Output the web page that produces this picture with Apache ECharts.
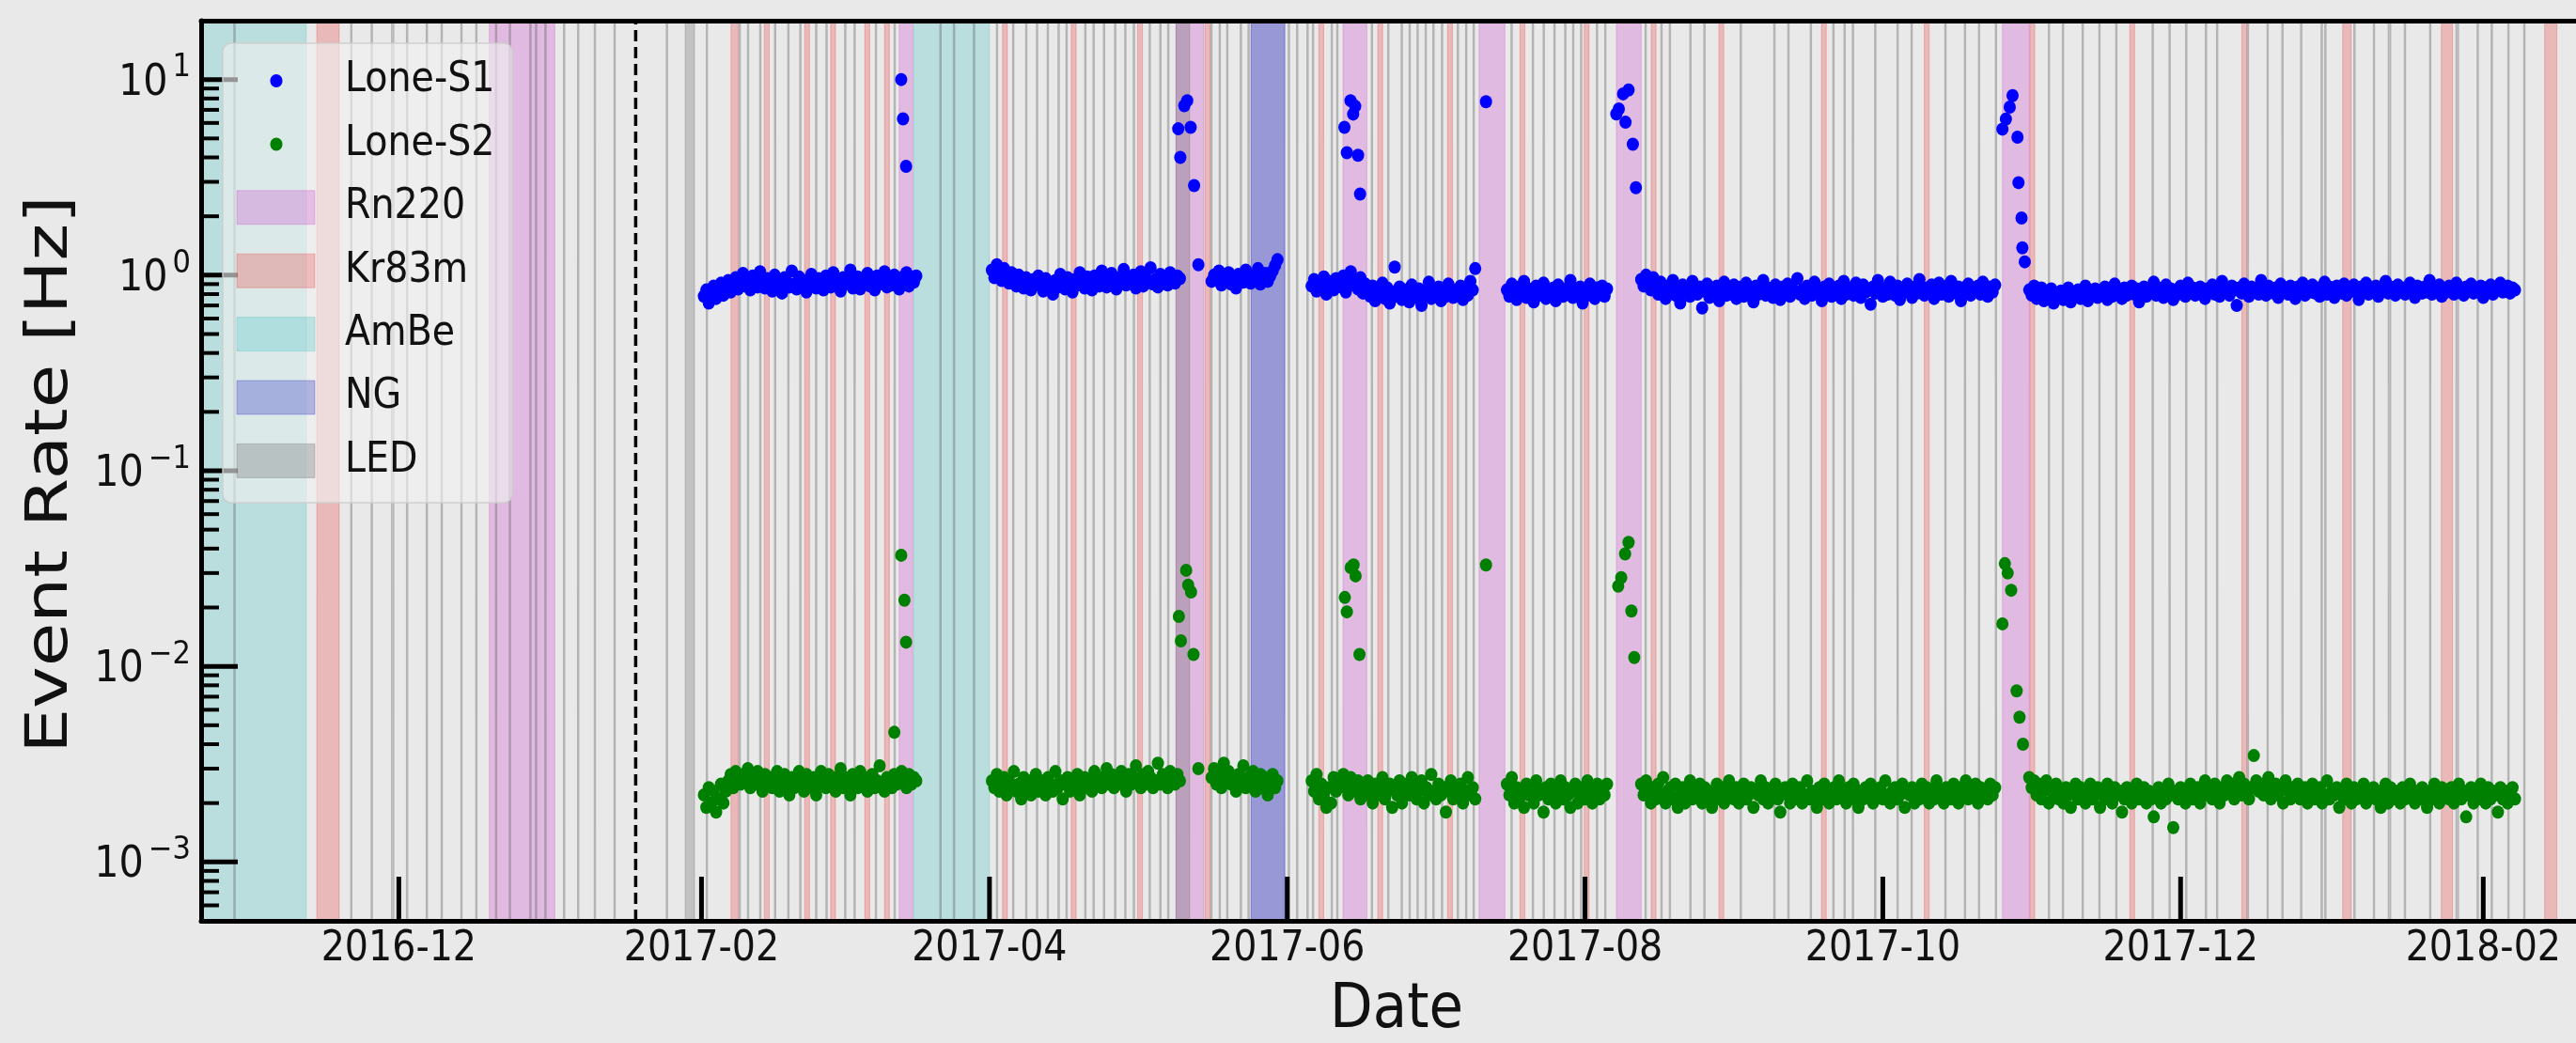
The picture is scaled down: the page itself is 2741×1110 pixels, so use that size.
<!DOCTYPE html>
<html>
<head>
<meta charset="utf-8">
<script src="https://cdn.jsdelivr.net/npm/echarts@6/dist/echarts.min.js"></script>
<style>
  html, body { margin: 0; padding: 0; background: #e9e9e9; }
  #chart { width: 2741px; height: 1110px; }
</style>
</head>
<body>
<div id="chart"></div>
<script>
// ---------------- axis ranges & ticks ----------------
const X_RANGE = ['2016-10-21 12:00', '2018-02-20 00:00'];
const Y_RANGE = [5e-4, 20];
const xTickDates  = ['2016-12-01', '2017-02-01', '2017-04-01', '2017-06-01', '2017-08-01', '2017-10-01', '2017-12-01', '2018-02-01'];
const xTickLabels = ['2016-12', '2017-02', '2017-04', '2017-06', '2017-08', '2017-10', '2017-12', '2018-02'];
const yMajorTicks = [1e-3, 1e-2, 1e-1, 1, 10];
const yTickExponents = ['\u22123', '\u22122', '\u22121', '0', '1'];
const startMarker = ['2017-01-18 12:30'];

// ---------------- rate data ----------------
// Lone-S1 / Lone-S2 rates every 12 h, one list per contiguous science run
const runStarts = ['2017-02-01 12:00', '2017-04-01 12:00', '2017-05-16 12:00', '2017-06-06 00:00',
                   '2017-07-16 00:00', '2017-08-12 12:00', '2017-10-31 00:00'];

// Lone-S1 in Hz
const s1RunA = [0.78,0.84,0.72,0.80,0.88,0.76,0.83,0.91,0.79,0.86,0.94,0.82,0.89,0.97,0.85,0.92,1.02,0.88,0.95,0.84,
  0.99,0.90,0.87,1.04,0.93,0.86,0.96,0.91,0.83,1.00,0.89,0.94,0.81,0.97,0.92,0.87,1.05,0.90,0.85,0.98,
  0.93,0.88,0.82,0.95,1.01,0.89,0.86,0.96,0.92,0.84,0.99,0.91,0.87,1.03,0.94,0.88,0.83,0.97,0.90,0.93,
  1.06,0.86,0.92,0.98,0.85,0.91,0.95,1.02,0.88,0.93,0.84,0.99,0.90,0.96,1.04,0.87,0.92,0.89,1.00,0.94,
  0.85,0.97,0.91,1.03,0.88,0.95,0.92,0.99];
const s1RunB = [1.06,0.97,1.13,1.01,0.94,1.08,0.99,0.91,1.03,0.95,0.88,1.00,0.93,0.86,0.97,0.90,0.84,0.95,0.89,0.99,
  0.92,0.83,0.96,0.88,0.91,0.80,0.94,0.87,1.01,0.90,0.85,0.97,0.92,0.82,0.95,0.89,1.03,0.93,0.86,0.98,
  0.91,0.84,0.99,0.94,0.88,1.05,0.92,0.87,0.96,1.02,0.90,0.85,0.97,0.93,1.07,0.89,0.95,0.91,1.00,0.86,
  0.94,1.04,0.88,0.97,0.92,1.09,0.90,0.95,0.87,1.01,0.93,0.98,0.89,1.03,0.94,0.91,0.99,0.96];
const s1RunC = [0.93,1.00,0.96,1.05,0.89,0.98,0.94,1.03,0.90,0.97,0.86,1.01,0.95,0.92,1.06,0.98,0.91,0.99,0.94,1.08,
  0.90,0.97,1.02,0.93,0.99,1.05,1.12,1.20];
const s1RunD = [0.88,0.95,0.83,0.91,0.86,0.98,0.80,0.93,0.89,0.84,0.96,0.90,0.87,0.99,0.82,0.94,1.04,0.89,0.92,0.85,
  0.97,0.81,0.90,0.84,0.78,0.88,0.74,0.83,0.79,0.91,0.76,0.86,0.72,0.82,1.10,0.78,0.87,0.75,0.84,0.80,
  0.73,0.89,0.81,0.77,0.85,0.70,0.83,0.79,0.92,0.76,0.84,0.80,0.87,0.74,0.82,0.78,0.90,0.85,0.77,0.83,
  0.81,0.88,0.75,0.86,0.79,0.93,0.84,1.08];
const s1RunE = [0.84,0.78,0.90,0.81,0.75,0.87,0.80,0.93,0.77,0.85,0.82,0.73,0.88,0.79,0.84,0.91,0.76,0.83,0.80,0.86,
  0.74,0.89,0.81,0.78,0.85,0.82,0.94,0.77,0.84,0.80,0.87,0.72,0.83,0.79,0.90,0.81,0.76,0.86,0.82,0.88,
  0.78,0.85];
const s1RunF = [0.95,0.88,1.00,0.91,0.84,0.97,0.86,0.80,0.92,0.83,0.76,0.88,0.81,0.94,0.79,0.85,0.72,0.89,0.82,0.86,
  0.78,0.93,0.84,0.80,0.87,0.68,0.83,0.90,0.77,0.85,0.81,0.88,0.74,0.86,0.92,0.79,0.84,0.80,0.89,0.76,
  0.83,0.87,0.78,0.91,0.82,0.85,0.73,0.88,0.80,0.84,0.94,0.79,0.86,0.82,0.77,0.89,0.83,0.75,0.87,0.81,
  0.90,0.78,0.85,0.82,0.96,0.80,0.84,0.76,0.88,0.83,0.79,0.92,0.86,0.81,0.74,0.87,0.84,0.90,0.78,0.85,
  0.82,0.88,0.76,0.93,0.80,0.86,0.83,0.79,0.91,0.84,0.77,0.89,0.82,0.85,0.71,0.87,0.81,0.94,0.83,0.78,
  0.86,0.80,0.92,0.84,0.79,0.88,0.75,0.85,0.82,0.90,0.83,0.77,0.87,0.81,0.95,0.84,0.79,0.86,0.82,0.89,
  0.76,0.85,0.91,0.80,0.84,0.88,0.78,0.93,0.83,0.81,0.87,0.74,0.86,0.82,0.90,0.79,0.85,0.83,0.88,0.80,
  0.92,0.84,0.78,0.87,0.82,0.89];
const s1RunG = [0.84,0.79,0.88,0.76,0.82,0.86,0.74,0.81,0.78,0.85,0.72,0.80,0.77,0.83,0.75,0.79,0.86,0.73,0.81,0.78,
  0.84,0.76,0.80,0.88,0.74,0.82,0.79,0.85,0.77,0.83,0.80,0.87,0.75,0.82,0.78,0.90,0.81,0.84,0.76,0.86,
  0.79,0.83,0.88,0.80,0.85,0.73,0.82,0.87,0.78,0.84,0.81,0.92,0.79,0.86,0.83,0.77,0.89,0.82,0.85,0.75,
  0.84,0.80,0.88,0.83,0.78,0.91,0.82,0.86,0.79,0.84,0.87,0.81,0.76,0.85,0.83,0.89,0.80,0.86,0.78,0.93,
  0.82,0.85,0.79,0.88,0.84,0.70,0.86,0.81,0.90,0.83,0.78,0.87,0.82,0.85,0.80,0.94,0.83,0.79,0.88,0.84,
  0.81,0.86,0.77,0.90,0.83,0.85,0.80,0.88,0.82,0.76,0.87,0.84,0.91,0.79,0.85,0.82,0.89,0.81,0.86,0.78,
  0.84,0.92,0.80,0.87,0.83,0.77,0.88,0.85,0.81,0.90,0.79,0.86,0.83,0.89,0.82,0.75,0.87,0.84,0.91,0.80,
  0.85,0.82,0.88,0.78,0.86,0.83,0.93,0.81,0.87,0.84,0.79,0.89,0.82,0.86,0.80,0.85,0.91,0.83,0.77,0.88,
  0.84,0.81,0.87,0.82,0.94,0.80,0.86,0.83,0.89,0.78,0.85,0.82,0.88,0.84,0.80,0.91,0.83,0.86,0.79,0.87,
  0.84,0.90,0.81,0.85,0.82,0.88,0.77,0.86,0.83,0.89,0.80,0.87,0.84,0.91,0.82,0.85,0.88,0.81,0.86,0.84];

// Lone-S2 in mHz
const s2RunA = [2.2,1.9,2.4,2.0,2.3,1.8,2.1,2.5,2.0,2.3,2.6,2.8,2.4,2.9,2.7,2.5,2.8,2.6,3.0,2.4,
  2.7,2.5,2.9,2.6,2.3,2.8,2.5,2.7,2.4,2.6,2.9,2.3,2.6,2.8,2.5,2.2,2.7,2.4,2.6,2.9,
  2.5,2.3,2.8,2.6,2.4,2.7,2.2,2.5,2.9,2.6,2.4,2.8,2.5,2.7,2.3,2.6,3.0,2.4,2.7,2.5,
  2.2,2.8,2.6,2.4,2.9,2.5,2.7,2.3,2.6,2.8,2.4,2.6,3.1,2.5,2.3,2.7,2.6,2.4,2.8,2.5,
  2.7,2.9,2.6,2.4,2.8,2.5,2.7,2.6];
const s2RunB = [2.6,2.4,2.8,2.3,2.5,2.7,2.2,2.6,2.4,2.9,2.3,2.5,2.1,2.7,2.4,2.6,2.2,2.5,2.8,2.3,
  2.6,2.4,2.2,2.7,2.5,2.3,2.9,2.4,2.6,2.1,2.5,2.7,2.3,2.6,2.4,2.8,2.2,2.5,2.7,2.4,
  2.6,2.3,2.9,2.5,2.7,2.4,2.6,3.0,2.5,2.8,2.4,2.7,2.5,2.9,2.6,2.3,2.8,2.5,2.7,3.1,
  2.6,2.4,2.8,2.5,2.9,2.7,2.4,2.6,3.2,2.5,2.8,2.6,2.4,2.9,2.7,2.5,2.8,2.6];
const s2RunC = [2.7,3.0,2.5,2.8,2.4,3.2,2.6,2.9,2.5,2.7,2.3,2.8,2.6,3.1,2.4,2.7,2.5,2.9,2.3,2.6,
  2.8,2.4,2.7,2.2,2.5,2.8,2.4,2.6];
const s2RunD = [2.6,2.3,2.8,2.1,2.5,2.2,1.9,2.4,2.0,2.7,2.3,2.6,2.5,2.8,2.4,2.2,2.7,2.5,2.3,2.6,
  2.1,2.4,2.2,2.6,2.3,2.0,2.5,2.2,2.4,2.7,2.1,2.3,2.5,1.9,2.4,2.2,2.6,2.0,2.3,2.5,
  2.2,2.7,2.4,2.1,2.3,2.6,2.0,2.4,2.2,2.8,2.3,2.1,2.5,2.2,2.4,1.8,2.3,2.6,2.1,2.4,
  2.2,2.5,2.0,2.3,2.7,2.2,2.4,2.1];
const s2RunE = [2.5,2.2,2.7,2.0,2.4,2.1,2.3,1.9,2.5,2.2,2.4,2.0,2.6,2.2,2.3,1.8,2.4,2.1,2.5,2.2,
  2.0,2.3,2.6,2.1,2.4,2.2,1.9,2.3,2.5,2.0,2.2,2.4,2.1,2.6,2.3,2.0,2.2,2.5,2.1,2.4,
  2.2,2.5];
const s2RunF = [2.5,2.2,2.6,2.3,2.0,2.4,2.1,2.5,2.2,2.7,2.0,2.3,2.4,2.1,2.5,1.9,2.2,2.4,2.0,2.3,
  2.6,2.1,2.3,2.2,2.5,2.0,2.4,2.1,2.3,1.9,2.2,2.5,2.1,2.4,2.0,2.3,2.6,2.2,2.1,2.4,
  2.0,2.3,2.5,2.1,2.2,2.4,1.9,2.3,2.2,2.6,2.1,2.4,2.0,2.3,2.2,2.5,2.1,1.8,2.3,2.4,
  2.2,2.0,2.5,2.1,2.3,2.4,2.0,2.2,2.6,2.1,2.3,2.2,1.9,2.4,2.1,2.5,2.2,2.0,2.3,2.4,
  2.1,2.6,2.2,2.3,2.0,2.4,2.1,2.5,2.2,1.9,2.3,2.1,2.4,2.2,2.5,2.0,2.3,2.2,2.4,2.1,
  2.6,2.2,2.0,2.3,2.4,2.1,2.2,2.5,1.9,2.3,2.2,2.4,2.0,2.3,2.1,2.5,2.2,2.4,2.0,2.3,
  2.1,2.6,2.2,2.3,2.0,2.4,2.2,2.1,2.5,2.3,2.0,2.4,2.2,2.6,2.1,2.3,2.2,2.5,2.0,2.4,
  2.2,2.3,2.1,2.5,2.2,2.4];
const s2RunG = [2.7,2.4,2.6,2.2,2.5,2.1,2.3,2.6,2.0,2.4,2.2,2.5,2.1,2.3,2.0,2.4,2.2,1.9,2.3,2.5,
  2.1,2.4,2.2,2.0,2.3,2.5,2.1,2.2,2.4,1.9,2.3,2.1,2.5,2.2,2.0,2.4,2.2,2.3,1.8,2.1,
  2.4,2.2,2.0,2.3,2.5,2.1,2.2,2.4,2.0,2.3,2.1,1.7,2.2,2.4,2.0,2.3,2.1,2.5,2.2,1.5,
  2.3,2.1,2.4,2.2,2.0,2.3,2.5,2.1,2.2,2.4,2.0,2.3,2.6,2.2,2.4,2.1,2.5,2.3,2.0,2.4,
  2.2,2.6,2.3,2.5,2.1,2.4,2.7,2.2,2.5,2.3,2.1,2.4,3.5,2.6,2.3,2.5,2.2,2.4,2.7,2.1,
  2.3,2.5,2.2,2.4,2.0,2.6,2.3,2.1,2.4,2.2,2.5,2.1,2.3,2.4,2.0,2.2,2.5,2.1,2.3,2.4,
  2.0,2.2,2.6,2.1,2.3,2.2,2.4,1.9,2.3,2.1,2.5,2.2,2.0,2.4,2.1,2.3,2.2,2.5,2.0,2.3,
  2.2,2.4,2.1,2.3,1.9,2.2,2.5,2.0,2.4,2.1,2.3,2.2,2.0,2.4,2.1,2.3,2.5,2.2,2.0,2.3,
  2.1,2.4,2.2,1.9,2.3,2.1,2.5,2.2,2.0,2.4,2.2,2.3,2.1,2.4,2.0,2.2,2.5,2.1,2.3,1.7,
  2.2,2.4,2.0,2.3,2.1,2.5,2.2,2.0,2.4,2.1,2.3,2.2,1.8,2.4,2.1,2.3,2.0,2.2,2.4,2.1];

// rate bursts after source injections [time, Hz]
const s1Bursts = [
  ['2017-03-13 22:00', 10.0], ['2017-03-14 07:00', 6.3], ['2017-03-14 22:00', 3.6],
  ['2017-05-09 16:00', 5.6], ['2017-05-10 02:00', 4.0], ['2017-05-10 22:00', 7.35], ['2017-05-11 12:00', 7.8],
  ['2017-05-12 05:00', 5.7], ['2017-05-12 22:00', 2.87], ['2017-05-13 19:00', 1.13],
  ['2017-06-12 17:00', 5.7], ['2017-06-13 05:00', 4.23], ['2017-06-13 23:00', 7.8], ['2017-06-14 12:00', 6.66],
  ['2017-06-14 22:00', 7.3], ['2017-06-15 12:00', 4.1], ['2017-06-15 22:00', 2.6],
  ['2017-07-11 17:00', 7.7],
  ['2017-08-07 10:00', 6.67], ['2017-08-07 22:00', 7.07], ['2017-08-08 19:00', 8.45], ['2017-08-09 07:00', 6.05],
  ['2017-08-09 22:00', 8.85], ['2017-08-10 19:00', 4.67], ['2017-08-11 10:00', 2.8],
  ['2017-10-25 12:00', 5.58], ['2017-10-26 05:00', 6.28], ['2017-10-27 00:00', 7.23], ['2017-10-27 14:00', 8.28],
  ['2017-10-28 14:00', 5.07], ['2017-10-28 19:00', 2.97], ['2017-10-29 10:00', 1.96], ['2017-10-29 14:00', 1.38],
  ['2017-10-30 02:00', 1.17]
];
const s2Bursts = [
  ['2017-03-12 12:00', 0.0046], ['2017-03-13 22:00', 0.037], ['2017-03-14 14:00', 0.0218], ['2017-03-14 22:00', 0.0133],
  ['2017-05-09 19:00', 0.018], ['2017-05-10 05:00', 0.0135], ['2017-05-11 07:00', 0.031], ['2017-05-11 17:00', 0.026],
  ['2017-05-12 07:00', 0.024], ['2017-05-12 19:00', 0.0115], ['2017-05-13 19:00', 0.0030],
  ['2017-06-12 19:00', 0.0225], ['2017-06-13 05:00', 0.019], ['2017-06-14 00:00', 0.032], ['2017-06-14 14:00', 0.033],
  ['2017-06-15 00:00', 0.029], ['2017-06-15 19:00', 0.0115],
  ['2017-07-11 17:00', 0.033],
  ['2017-08-07 19:00', 0.0257], ['2017-08-08 10:00', 0.0284], ['2017-08-09 05:00', 0.0376], ['2017-08-09 22:00', 0.043],
  ['2017-08-10 12:00', 0.0192], ['2017-08-11 02:00', 0.0111],
  ['2017-10-25 12:00', 0.0165], ['2017-10-26 00:00', 0.0335], ['2017-10-26 14:00', 0.030], ['2017-10-27 07:00', 0.0245],
  ['2017-10-28 10:00', 0.0075], ['2017-10-29 00:00', 0.0055], ['2017-10-29 17:00', 0.0040]
];

// ---------------- calibration periods ----------------
const rn220Runs = [
  ['2016-12-19 13:00', '2017-01-01 23:00'], ['2017-03-13 12:00', '2017-03-16 07:00'],
  ['2017-05-09 05:00', '2017-05-14 22:00'], ['2017-06-12 10:00', '2017-06-17 07:00'],
  ['2017-07-10 07:00', '2017-07-15 14:00'], ['2017-08-07 10:00', '2017-08-12 12:00'],
  ['2017-10-25 12:00', '2017-10-31 00:00']
];
const kr83mRuns = [
  ['2016-11-14 05:00', '2016-11-18 19:00'], ['2017-02-07 01:00', '2017-02-08 12:00'],
  ['2017-02-13 21:00', '2017-02-14 21:00'], ['2017-02-22 03:00', '2017-02-23 03:00'],
  ['2017-02-27 11:00', '2017-02-28 11:00'], ['2017-03-06 11:00', '2017-03-07 11:00'],
  ['2017-03-10 12:00', '2017-03-11 12:00'], ['2017-04-03 16:00', '2017-04-04 16:00'],
  ['2017-04-17 18:00', '2017-04-18 18:00'], ['2017-05-01 08:00', '2017-05-02 08:00'],
  ['2017-05-15 04:00', '2017-05-16 04:00'], ['2017-06-07 11:00', '2017-06-08 11:00'],
  ['2017-06-19 13:00', '2017-06-20 13:00'], ['2017-07-03 20:00', '2017-07-04 20:00'],
  ['2017-07-18 16:00', '2017-07-19 16:00'], ['2017-07-31 20:00', '2017-08-01 20:00'],
  ['2017-08-14 13:00', '2017-08-15 13:00'], ['2017-08-28 10:00', '2017-08-29 10:00'],
  ['2017-09-18 10:00', '2017-09-19 10:00'], ['2017-10-09 12:00', '2017-10-10 12:00'],
  ['2017-10-31 03:00', '2017-11-01 03:00'], ['2017-11-20 14:00', '2017-11-21 14:00'],
  ['2017-12-13 13:00', '2017-12-14 13:00'], ['2018-01-03 05:00', '2018-01-04 23:00'],
  ['2018-01-23 10:00', '2018-01-25 17:00'], ['2018-02-13 14:00', '2018-02-16 02:00']
];
const ambeRuns = [['2016-10-10 00:00', '2016-11-12 01:00'], ['2017-03-16 12:00', '2017-04-01 00:00']];
const ngRuns = [['2017-05-24 14:00', '2017-05-31 12:00']];
const ledLongRuns = [
  ['2016-11-29 12:00', '2016-11-30 00:00'], ['2017-01-28 16:00', '2017-01-30 14:00'],
  ['2017-05-09 05:00', '2017-05-12 00:00'], ['2018-01-12 12:00', '2018-01-13 02:00'],
  ['2018-01-26 09:00', '2018-01-26 23:00']
];
const ledRuns = [
  '2016-10-28 08:00','2016-11-21 06:00','2016-11-25 11:00','2016-12-02 17:00','2016-12-06 18:00','2016-12-09 19:00',
  '2016-12-13 20:00','2016-12-16 21:00','2016-12-20 22:00','2016-12-23 18:00','2016-12-27 23:00','2016-12-29 03:00',
  '2016-12-31 01:00','2017-01-03 21:00','2017-01-06 18:00','2017-01-10 04:00','2017-01-14 05:00','2017-01-24 22:00',
  '2017-02-02 03:00','2017-02-08 20:00','2017-02-10 13:00','2017-02-13 01:00','2017-02-16 02:00','2017-02-18 19:00',
  '2017-02-21 06:00','2017-02-24 12:00','2017-02-26 15:00','2017-03-02 11:00','2017-03-04 09:00','2017-03-08 18:00',
  '2017-03-12 14:00','2017-03-21 23:00','2017-03-24 18:00','2017-03-28 20:00','2017-04-02 13:00','2017-04-05 21:00',
  '2017-04-08 13:00','2017-04-10 18:00','2017-04-12 23:00','2017-04-15 04:00','2017-04-16 19:00','2017-04-20 15:00',
  '2017-04-22 08:00','2017-04-24 11:00','2017-04-26 18:00','2017-04-28 20:00','2017-04-30 14:00','2017-05-03 20:00',
  '2017-05-06 00:00','2017-05-07 15:00','2017-05-16 11:00','2017-05-18 04:00','2017-05-19 17:00','2017-05-22 12:00',
  '2017-05-24 02:00','2017-06-01 08:00','2017-06-03 01:00','2017-06-05 04:00','2017-06-06 07:00','2017-06-10 03:00',
  '2017-06-11 06:00','2017-06-18 08:00','2017-06-21 17:00','2017-06-24 11:00','2017-06-26 02:00','2017-06-27 17:00',
  '2017-06-29 09:00','2017-06-30 23:00','2017-07-02 17:00','2017-07-05 23:00','2017-07-07 16:00','2017-07-09 05:00',
  '2017-07-16 23:00','2017-07-21 08:00','2017-07-23 13:00','2017-07-25 18:00','2017-07-27 23:00','2017-07-29 14:00',
  '2017-07-31 05:00','2017-08-03 11:00','2017-08-05 04:00','2017-08-13 10:00','2017-08-16 16:00','2017-08-18 09:00',
  '2017-08-22 14:00','2017-08-25 11:00','2017-09-01 22:00','2017-09-08 19:00','2017-09-11 16:00','2017-09-16 06:00',
  '2017-09-20 21:00','2017-09-23 04:00','2017-09-24 21:00','2017-09-29 11:00','2017-10-04 01:00','2017-10-06 22:00',
  '2017-10-13 20:00','2017-10-17 20:00','2017-10-20 17:00','2017-10-24 04:00','2017-11-04 01:00','2017-11-06 22:00',
  '2017-11-10 23:00','2017-11-14 09:00','2017-11-17 20:00','2017-11-25 07:00','2017-11-28 18:00','2017-12-02 04:00',
  '2017-12-06 05:00','2017-12-08 12:00','2017-12-14 19:00','2017-12-18 20:00','2017-12-21 21:00','2017-12-25 17:00',
  '2017-12-29 22:00','2017-12-30 16:00','2018-01-05 15:00','2018-01-09 15:00','2018-01-15 23:00','2018-01-21 03:00',
  '2018-01-30 21:00','2018-02-02 18:00','2018-02-06 04:00','2018-02-09 10:00'
];

// ---------------- helpers ----------------
const DAY = 86400000;
function ts(s) {
  const [d, hm = '00:00'] = s.split(' ');
  const [Y, M, D] = d.split('-').map(Number);
  const [h, m] = hm.split(':').map(Number);
  return Date.UTC(Y, M - 1, D, h, m);
}
const xMin = ts(X_RANGE[0]), xMax = ts(X_RANGE[1]);

function sampledPoints(runs, scale) {
  const out = [];
  runs.forEach((vals, k) => {
    const t0 = ts(runStarts[k]);
    vals.forEach((v, i) => out.push([t0 + i * DAY / 2, v * scale]));
  });
  return out;
}
const s1Points = sampledPoints([s1RunA, s1RunB, s1RunC, s1RunD, s1RunE, s1RunF, s1RunG], 1)
  .concat(s1Bursts.map(([t, v]) => [ts(t), v]));
const s2Points = sampledPoints([s2RunA, s2RunB, s2RunC, s2RunD, s2RunE, s2RunF, s2RunG], 1e-3)
  .concat(s2Bursts.map(([t, v]) => [ts(t), v]));

const FAMILY = '"DejaVu Sans Condensed", "DejaVu Sans", sans-serif';
const TEXT_COLOR = '#111';
const COLORS = {
  rn220: 'rgba(191, 0, 191, 0.20)',
  kr83m: 'rgba(235, 30, 30, 0.24)',
  ambe:  'rgba(0, 175, 175, 0.20)',
  ng:    'rgba(30, 30, 185, 0.40)',
  led:   'rgba(95, 95, 95, 0.28)',
  s1: '#0000ff',
  s2: '#008000'
};

const measureCtx = document.createElement('canvas').getContext('2d');
function textWidth(str, font) { measureCtx.font = font; return measureCtx.measureText(str).width; }

// shaded vertical spans covering the full y range
function spanSeries(name, runs, color, minWidth) {
  return {
    type: 'custom', name, silent: true, clip: true, z: 2,
    data: runs.map(([a, b]) => [ts(a), ts(b)]),
    encode: { x: [0, 1] },
    renderItem(params, api) {
      const p0 = api.coord([api.value(0), Y_RANGE[1]]);
      const p1 = api.coord([api.value(1), Y_RANGE[0]]);
      let x = p0[0], w = p1[0] - p0[0];
      if (w < minWidth) { x -= (minWidth - w) / 2; w = minWidth; }
      return {
        type: 'rect',
        shape: { x, y: p0[1], width: w, height: p1[1] - p0[1] },
        style: { fill: color, stroke: color, lineWidth: 1 }
      };
    }
  };
}

// y ticks: decade majors plus 2..9 minors inside the range
const yMinorTicks = [];
for (let e = -4; e <= 1; e++) {
  for (let m = 2; m <= 9; m++) {
    const v = m * Math.pow(10, e);
    if (v > Y_RANGE[0] * 0.999 && v < Y_RANGE[1] * 0.999) yMinorTicks.push(v);
  }
}

const BASE_FONT = '46px ' + FAMILY;
const EXP_FONT = '34px ' + FAMILY;
const XLABEL_FONT = '44px ' + FAMILY;

const yMinorSeries = {
  type: 'custom', name: 'yMinor', silent: true, clip: false, z: 12,
  data: yMinorTicks.map(v => [xMin, v]),
  renderItem(params, api) {
    const p = api.coord([xMin, api.value(1)]);
    return { type: 'line', shape: { x1: p[0], y1: p[1], x2: p[0] + 19, y2: p[1] },
             style: { stroke: '#000', lineWidth: 4 } };
  }
};
const yMajorSeries = {
  type: 'custom', name: 'yMajor', silent: true, clip: false, z: 12,
  data: yMajorTicks.map(v => [xMin, v]),
  renderItem(params, api) {
    const p = api.coord([xMin, api.value(1)]);
    const exp = yTickExponents[params.dataIndex];
    const expRight = p[0] - 11;
    const expW = textWidth(exp, EXP_FONT);
    return {
      type: 'group',
      children: [
        { type: 'line', shape: { x1: p[0], y1: p[1], x2: p[0] + 39, y2: p[1] },
          style: { stroke: '#000', lineWidth: 5 } },
        { type: 'text', x: expRight, y: p[1] - 12,
          style: { text: exp, font: EXP_FONT, fill: TEXT_COLOR, align: 'right', verticalAlign: 'middle',
                   textAlign: 'right', textVerticalAlign: 'middle' } },
        { type: 'text', x: expRight - expW - 5, y: p[1] + 4,
          style: { text: '10', font: BASE_FONT, fill: TEXT_COLOR, align: 'right', verticalAlign: 'middle',
                   textAlign: 'right', textVerticalAlign: 'middle' } }
      ]
    };
  }
};
const xTickSeries = {
  type: 'custom', name: 'xTicks', silent: true, clip: false, z: 12,
  data: xTickDates.map(d => [ts(d), Y_RANGE[0]]),
  renderItem(params, api) {
    const p = api.coord([api.value(0), Y_RANGE[0]]);
    return {
      type: 'group',
      children: [
        { type: 'line', shape: { x1: p[0], y1: p[1], x2: p[0], y2: p[1] - 47 },
          style: { stroke: '#000', lineWidth: 5 } },
        { type: 'text', x: p[0], y: p[1] + 31,
          style: { text: xTickLabels[params.dataIndex], font: XLABEL_FONT, fill: TEXT_COLOR,
                   align: 'center', verticalAlign: 'middle', textAlign: 'center', textVerticalAlign: 'middle' } }
      ]
    };
  }
};

// ---------------- legend (drawn above every series) ----------------
const LEG_X = 237, LEG_Y = 46, LEG_Z = 30;
const legendRows = [
  { label: 'Lone-S1', kind: 'dot', color: COLORS.s1 },
  { label: 'Lone-S2', kind: 'dot', color: COLORS.s2 },
  { label: 'Rn220', kind: 'patch', color: COLORS.rn220 },
  { label: 'Kr83m', kind: 'patch', color: COLORS.kr83m },
  { label: 'AmBe', kind: 'patch', color: COLORS.ambe },
  { label: 'NG', kind: 'patch', color: 'rgba(30, 30, 185, 0.28)' },
  { label: 'LED', kind: 'patch', color: COLORS.led }
];
const legendElements = [{
  type: 'rect', z: LEG_Z, silent: true,
  shape: { x: LEG_X, y: LEG_Y, width: 308, height: 489, r: 9 },
  style: { fill: 'rgba(240, 241, 241, 0.62)', stroke: 'rgba(205, 205, 205, 0.9)', lineWidth: 1.5 }
}];
legendRows.forEach((row, i) => {
  const cy = LEG_Y + 40 + i * 67.4;
  if (row.kind === 'dot') {
    legendElements.push({ type: 'ellipse', z: LEG_Z + 1, silent: true,
      shape: { cx: LEG_X + 57, cy, rx: 6.5, ry: 7 }, style: { fill: row.color } });
  } else {
    legendElements.push({ type: 'rect', z: LEG_Z + 1, silent: true,
      shape: { x: LEG_X + 15, y: cy - 18, width: 83, height: 36 },
      style: { fill: row.color, stroke: row.color, lineWidth: 1 } });
  }
  legendElements.push({ type: 'text', z: LEG_Z + 1, silent: true, x: LEG_X + 130, y: cy,
    style: { text: row.label, font: '44px ' + FAMILY, fill: TEXT_COLOR, align: 'left', verticalAlign: 'middle',
             textAlign: 'left', textVerticalAlign: 'middle' } });
});

// ---------------- chart ----------------
const chart = echarts.init(document.getElementById('chart'), null, { renderer: 'canvas' });
const plainAxis = {
  axisTick: { show: false }, axisLabel: { show: false }, splitLine: { show: false },
  axisLine: { show: true, onZero: false, lineStyle: { color: '#000', width: 5 } }, z: 10
};
chart.setOption({
  animation: false,
  backgroundColor: '#e9e9e9',
  grid: { left: 214, top: 22, width: 2543, height: 958, containLabel: false },
  xAxis: [
    Object.assign({ type: 'time', min: xMin, max: xMax, position: 'bottom' }, plainAxis),
    Object.assign({ type: 'time', min: xMin, max: xMax, position: 'top' }, plainAxis)
  ],
  yAxis: Object.assign({ type: 'log', logBase: 10, min: Y_RANGE[0], max: Y_RANGE[1], minorTick: { show: false } }, plainAxis),
  graphic: legendElements.concat([
    { type: 'text', x: 55, y: 505, rotation: Math.PI / 2, scaleX: 1.2, z: LEG_Z,
      style: { text: 'Event Rate [Hz]', font: '63px "DejaVu Sans", sans-serif', fill: TEXT_COLOR,
               align: 'center', verticalAlign: 'middle', textAlign: 'center', textVerticalAlign: 'middle' } },
    { type: 'text', x: 1486, y: 1076, z: LEG_Z,
      style: { text: 'Date', font: '66px ' + FAMILY, fill: TEXT_COLOR,
               align: 'center', verticalAlign: 'middle', textAlign: 'center', textVerticalAlign: 'middle' } }
  ]),
  series: [
    spanSeries('Rn220', rn220Runs, COLORS.rn220, 2),
    spanSeries('Kr83m', kr83mRuns, COLORS.kr83m, 3),
    spanSeries('AmBe', ambeRuns, COLORS.ambe, 2),
    spanSeries('NG', ngRuns, COLORS.ng, 2),
    spanSeries('LED', ledLongRuns, COLORS.led, 2),
    spanSeries('LED ', ledRuns.map(t => [t, t]), COLORS.led, 1.6),
    {
      type: 'line', name: 'start', silent: true, z: 6, showSymbol: false,
      data: [[ts(startMarker[0]), Y_RANGE[0]], [ts(startMarker[0]), Y_RANGE[1]]],
      lineStyle: { color: '#000', width: 3.5, type: [12, 6] }
    },
    {
      type: 'scatter', name: 'Lone-S1', z: 7, symbol: 'circle', symbolSize: [13, 14],
      data: s1Points, itemStyle: { color: COLORS.s1, opacity: 1 }
    },
    {
      type: 'scatter', name: 'Lone-S2', z: 7, symbol: 'circle', symbolSize: [13, 14],
      data: s2Points, itemStyle: { color: COLORS.s2, opacity: 1 }
    },
    yMinorSeries, yMajorSeries, xTickSeries
  ]
});
</script>
</body>
</html>
